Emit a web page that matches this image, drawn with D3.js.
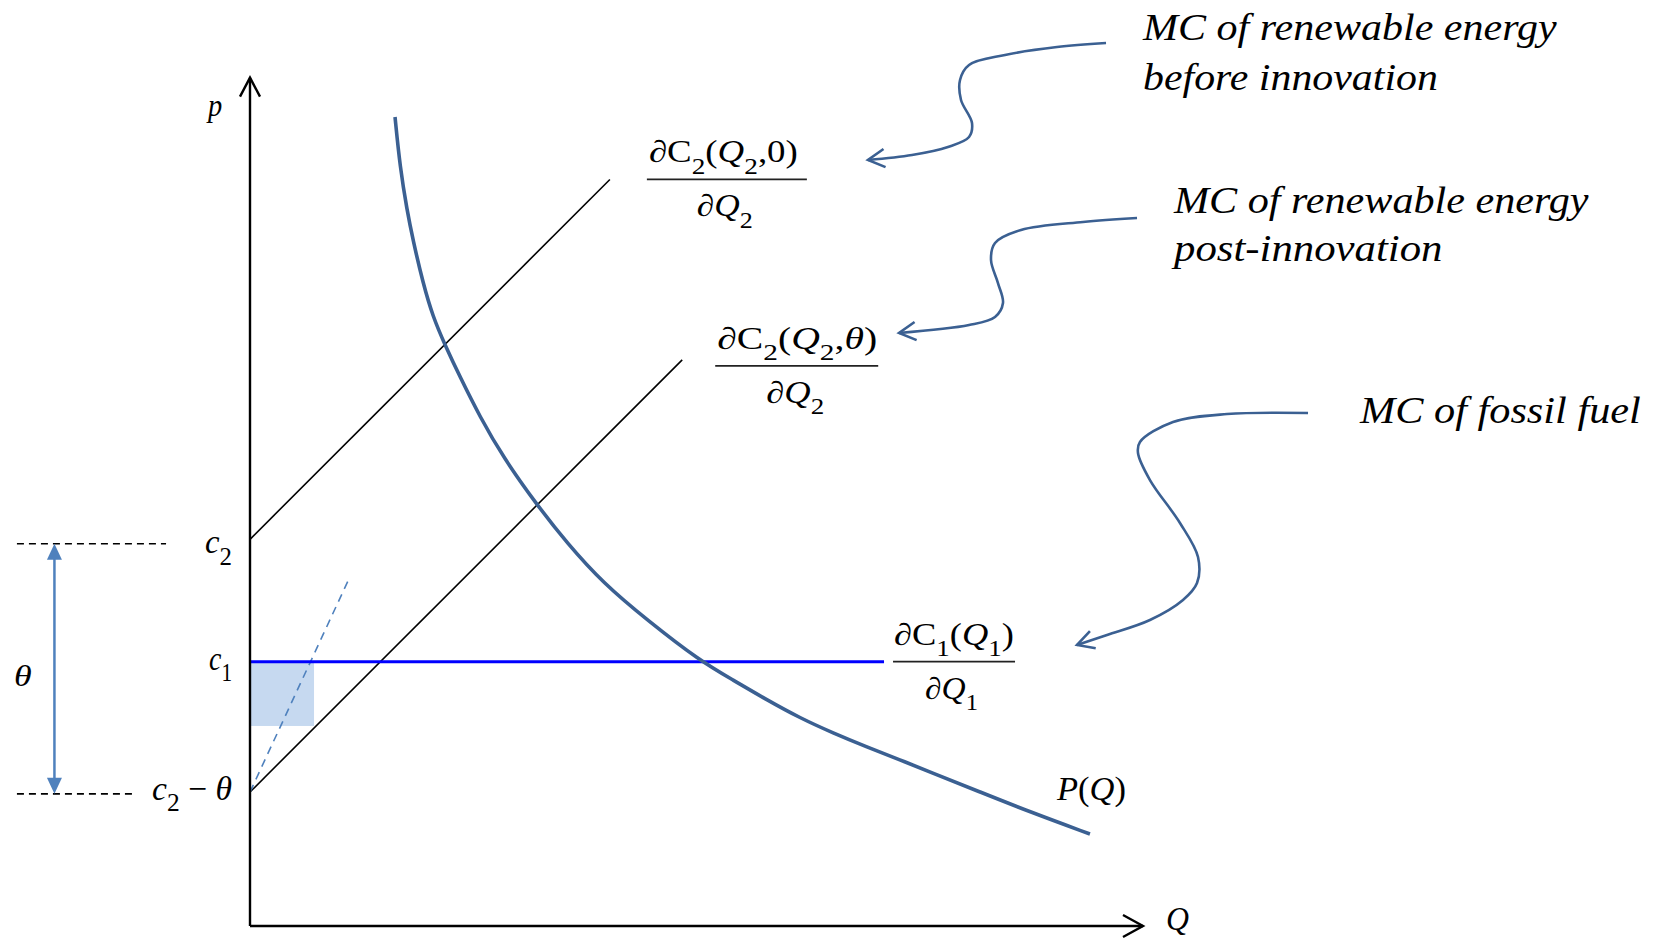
<!DOCTYPE html>
<html><head><meta charset="utf-8">
<script src="https://cdn.jsdelivr.net/npm/d3@7"></script>
<style>html,body{margin:0;padding:0;background:#fff;} svg{display:block;}</style>
</head><body><svg id="c" width="1662" height="939"></svg>
<script>
// ---------------- data (economic units) ----------------
const demandQ = [16.24, 16.80, 17.58, 18.25, 19.37, 20.49, 21.84, 23.52, 25.76, 28.33, 32.14, 35.50, 39.53, 44.46, 50.39, 54.09, 57.89, 61.59, 65.29, 69.09, 72.84, 76.15, 81.75, 87.35, 94.06];
const demandP = [90.59, 84.99, 80.18, 76.82, 72.00, 68.20, 65.06, 61.48, 57.00, 52.52, 47.14, 42.89, 38.41, 34.27, 29.68, 27.55, 25.31, 23.29, 21.61, 20.04, 18.59, 17.25, 15.01, 12.77, 10.30];
const c1 = 29.6;          // MC of fossil fuel
const c2 = 43.3;          // intercept of renewable MC before innovation
const theta = 28.3;       // innovation shift
const mcSlope = 1.0;      // slope of renewable MC lines
const mcBeforeEndQ = 40.3;
const mcAfterEndQ = 48.4;
const fossilEndQ = 71.0;
const steepEndQ = 11.0, steepEndP = 38.7;
const shadeQ = [0, 7.17];
const shadeP = [22.4, 29.6];
const bracketDashQ = [-26.1, -9.4, -13.1];  // start, end at c2, end at c2-theta
const bracketArrowQ = -21.9;
const axisMaxQ = 100, axisMaxP = 95;

// annotation arrow paths (economic units)
const arrow1Q = [95.86, 90.37, 84.55, 80.52, 79.51, 79.62, 80.85, 80.52, 78.16, 74.13, 69.20];
const arrow1P = [98.88, 98.43, 97.54, 96.42, 94.74, 92.50, 89.92, 88.35, 87.24, 86.34, 85.78];
const arrow2Q = [99.33, 93.28, 86.34, 83.43, 82.98, 83.76, 84.32, 83.43, 80.52, 72.68];
const arrow2P = [79.28, 78.84, 77.94, 76.48, 74.58, 72.00, 69.76, 68.20, 67.30, 66.41];
const arrow3Q = [118.48, 109.41, 103.36, 99.66, 99.44, 100.78, 104.14, 106.16, 106.05, 104.48, 100.78, 95.97, 92.61];
const arrow3P = [57.45, 57.33, 56.44, 54.20, 52.97, 49.94, 45.13, 41.32, 38.41, 36.51, 34.27, 32.59, 31.47];

const annotationText = [
  ["MC of renewable energy", "before innovation"],
  ["MC of renewable energy", "post-innovation"],
  ["MC of fossil fuel"]
];

// ---------------- scales ----------------
const svg = d3.select("#c");
const x = d3.scaleLinear().domain([0, axisMaxQ]).range([250, 1143]);
const y = d3.scaleLinear().domain([0, axisMaxP]).range([926, 926 - 95 * 8.93]);
const line = d3.line().x(d => x(d[0])).y(d => y(d[1]));
const smooth = d3.line().x(d => x(d[0])).y(d => y(d[1])).curve(d3.curveCatmullRom.alpha(0.5));
const basis = d3.line().x(d => x(d[0])).y(d => y(d[1])).curve(d3.curveBasis);

const DARK = "#3b6092", LIGHTBLUE = "#4f81bd";
const FONT = "'Liberation Serif', 'Times New Roman', serif";

// ---------------- shaded area ----------------
svg.append("rect")
  .attr("x", x(shadeQ[0])).attr("width", x(shadeQ[1]) - x(shadeQ[0]))
  .attr("y", y(shadeP[1])).attr("height", y(shadeP[0]) - y(shadeP[1]))
  .attr("fill", "#c6d9f0");

// ---------------- MC lines ----------------
svg.append("path").attr("d", line([[0, c2], [mcBeforeEndQ, c2 + mcSlope * mcBeforeEndQ]]))
  .attr("stroke", "#000").attr("stroke-width", 1.6).attr("fill", "none");
svg.append("path").attr("d", line([[0, c2 - theta], [mcAfterEndQ, c2 - theta + mcSlope * mcAfterEndQ]]))
  .attr("stroke", "#000").attr("stroke-width", 1.6).attr("fill", "none");
svg.append("path").attr("d", line([[0, c2 - theta], [steepEndQ, steepEndP]]))
  .attr("stroke", LIGHTBLUE).attr("stroke-width", 1.6).attr("stroke-dasharray", "8,6").attr("fill", "none");
svg.append("path").attr("d", line([[0, c1], [fossilEndQ, c1]]))
  .attr("stroke", "#0000ff").attr("stroke-width", 3).attr("fill", "none");

// ---------------- demand curve ----------------
svg.append("path").attr("d", basis(demandQ.map((q, i) => [q, demandP[i]])))
  .attr("stroke", DARK).attr("stroke-width", 3.6).attr("fill", "none");

// ---------------- axes ----------------
const ax = svg.append("g").attr("stroke", "#000").attr("stroke-width", 2.4).attr("fill", "none");
ax.append("path").attr("d", line([[0, 0], [0, axisMaxP]]));
ax.append("path").attr("d", line([[0, 0], [axisMaxQ, 0]]));
ax.append("path").attr("d", `M${x(0) - 10},${y(axisMaxP) + 19} L${x(0)},${y(axisMaxP)} L${x(0) + 10},${y(axisMaxP) + 19}`);
ax.append("path").attr("d", `M${x(axisMaxQ) - 20},${y(0) - 11} L${x(axisMaxQ)},${y(0)} L${x(axisMaxQ) - 20},${y(0) + 11}`);

// ---------------- theta bracket ----------------
const br = svg.append("g");
br.append("path").attr("d", line([[bracketDashQ[0], c2 - 0.5], [bracketDashQ[1], c2 - 0.5]]))
  .attr("stroke", "#000").attr("stroke-width", 1.6).attr("stroke-dasharray", "7,5");
br.append("path").attr("d", line([[bracketDashQ[0], c2 - theta - 0.2], [bracketDashQ[2], c2 - theta - 0.2]]))
  .attr("stroke", "#000").attr("stroke-width", 1.6).attr("stroke-dasharray", "7,5");
const ayTop = y(c2 - 0.5), ayBot = y(c2 - theta - 0.2), axX = x(bracketArrowQ);
br.append("path").attr("d", `M${axX},${ayTop + 14} L${axX},${ayBot - 14}`)
  .attr("stroke", LIGHTBLUE).attr("stroke-width", 2.5);
br.append("path").attr("d", `M${axX},${ayTop} L${axX - 7.5},${ayTop + 16} L${axX + 7.5},${ayTop + 16}Z`).attr("fill", LIGHTBLUE);
br.append("path").attr("d", `M${axX},${ayBot} L${axX - 7.5},${ayBot - 16} L${axX + 7.5},${ayBot - 16}Z`).attr("fill", LIGHTBLUE);

// ---------------- annotation arrows ----------------
function annArrow(qs, ps) {
  const pts = qs.map((q, i) => [q, ps[i]]);
  svg.append("path").attr("d", smooth(pts)).attr("stroke", DARK).attr("stroke-width", 2.6).attr("fill", "none");
  const tip = [x(qs[qs.length - 1]), y(ps[ps.length - 1])];
  const prev = [x(qs[qs.length - 2]), y(ps[ps.length - 2])];
  const ang = Math.atan2(tip[1] - prev[1], tip[0] - prev[0]);
  const L = 19, spread = 0.5;
  const a1 = [tip[0] - L * Math.cos(ang - spread), tip[1] - L * Math.sin(ang - spread)];
  const a2 = [tip[0] - L * Math.cos(ang + spread), tip[1] - L * Math.sin(ang + spread)];
  svg.append("path").attr("d", `M${a1[0]},${a1[1]} L${tip[0]},${tip[1]} L${a2[0]},${a2[1]}`)
    .attr("stroke", DARK).attr("stroke-width", 2.6).attr("fill", "none").attr("stroke-linejoin", "miter");
}
annArrow(arrow1Q, arrow1P);
annArrow(arrow2Q, arrow2P);
annArrow(arrow3Q, arrow3P);

// ---------------- text helpers ----------------
function fitX(t, x0, w) {
  const bb = t.node().getBBox();
  const s = w / bb.width;
  t.attr("transform", `translate(${x0},0) scale(${s},1) translate(${-x0},0)`);
}
function mathText(parts, x0, y0, size, w, subRatio = 0.74, shiftRatio = 0.36) {
  const t = svg.append("text").attr("x", x0).attr("y", y0).attr("font-family", FONT)
    .attr("font-size", size).attr("fill", "#000");
  let shifted = false;
  parts.forEach(([s, st]) => {
    const ts = t.append("tspan").text(s);
    if (st.includes("i")) ts.attr("font-style", "italic");
    if (st.includes("s")) {
      ts.attr("font-size", size * subRatio);
      if (!shifted) { ts.attr("dy", size * shiftRatio); shifted = true; }
    } else if (shifted) { ts.attr("dy", -size * shiftRatio); shifted = false; }
  });
  if (w) fitX(t, x0, w);
  return t;
}
function italicText(str, x0, y0, size, w) {
  const t = svg.append("text").attr("x", x0).attr("y", y0).attr("font-family", FONT)
    .attr("font-style", "italic").attr("font-size", size).attr("fill", "#000").text(str);
  if (w) fitX(t, x0, w);
  return t;
}
function fraction(num, den, barX0, barX1, barY, numX, numW, denX, denW) {
  svg.append("line").attr("x1", barX0).attr("x2", barX1).attr("y1", barY).attr("y2", barY)
    .attr("stroke", "#222").attr("stroke-width", 1.8);
  mathText(num, numX, barY - 17, 31, numW);
  mathText(den, denX, barY + 37, 31, denW);
}

// ---------------- fractions ----------------
const barLeft1 = x(mcBeforeEndQ) + 37;
fraction([["∂C", "r"], ["2", "s"], ["(", "r"], ["Q", "i"], ["2", "s"], [",0)", "r"]],
  [["∂", "r"], ["Q", "i"], ["2", "s"]], barLeft1, barLeft1 + 160, y(c2 + mcSlope * mcBeforeEndQ), barLeft1 + 2, 149, barLeft1 + 50, 56);
const barLeft2 = x(mcAfterEndQ) + 33;
fraction([["∂C", "r"], ["2", "s"], ["(", "r"], ["Q", "i"], ["2", "s"], [",", "r"], ["θ", "i"], [")", "r"]],
  [["∂", "r"], ["Q", "i"], ["2", "s"]], barLeft2, barLeft2 + 163, y(c2 - theta + mcSlope * mcAfterEndQ) + 6, barLeft2 + 2, 160, barLeft2 + 51, 58);
const barLeft3 = x(fossilEndQ) + 9;
fraction([["∂C", "r"], ["1", "s"], ["(", "r"], ["Q", "i"], ["1", "s"], [")", "r"]],
  [["∂", "r"], ["Q", "i"], ["1", "s"]], barLeft3, barLeft3 + 122, y(c1), barLeft3 + 1, 120, barLeft3 + 32, 53);

// ---------------- level labels ----------------
mathText([["c", "i"], ["2", "s"]], 205, y(c2) + 14, 34, 27, 0.76, 0.33);
mathText([["c", "i"], ["1", "s"]], 209, y(c1) + 8, 34, 23, 0.76, 0.33);
mathText([["c", "i"], ["2", "s"], [" − ", "r"], ["θ", "i"]], 152, y(c2 - theta) + 8, 34, 80, 0.76, 0.33);
italicText("θ", 14, y(c2 - theta / 2) + 20, 30, 18);

// ---------------- axis & curve labels ----------------
italicText("p", 208, y(axisMaxP) + 38, 32, 16);
italicText("Q", 1166, y(0) + 4, 34, 23);
mathText([["P", "i"], ["(", "r"], ["Q", "i"], [")", "r"]], 1057, 800, 34, 70);

// ---------------- annotation texts ----------------
const annPos = [
  {x0: 1143, ys: [40, 90], ws: [415, 295]},
  {x0: 1174, ys: [213, 261], ws: [416, 272]},
  {x0: 1360, ys: [423], ws: [282]}
];
annotationText.forEach((lines, i) => {
  lines.forEach((s, j) => italicText(s, annPos[i].x0, annPos[i].ys[j], 38, annPos[i].ws[j]));
});
</script></body></html>
